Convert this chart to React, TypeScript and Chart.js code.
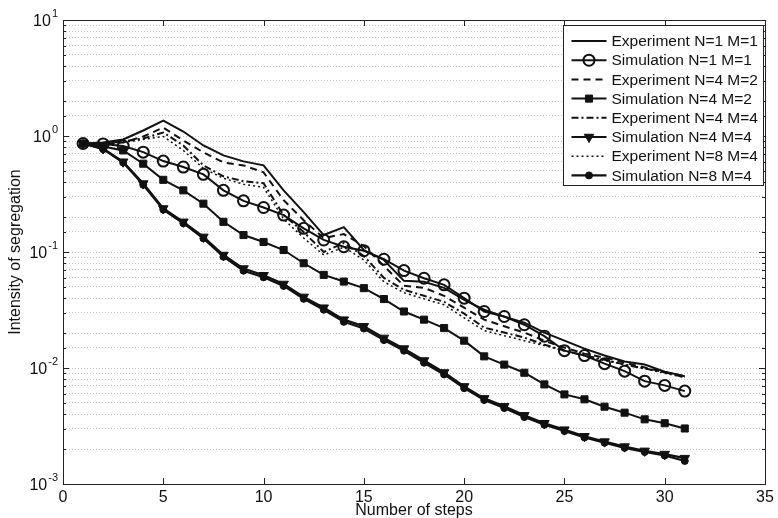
import React, { useEffect, useRef } from 'react';
import { Chart, registerables } from 'chart.js';
Chart.register(...registerables);

const steps = [1, 2, 3, 4, 5, 6, 7, 8, 9, 10, 11, 12, 13, 14, 15, 16, 17, 18, 19, 20, 21, 22, 23, 24, 25, 26, 27, 28, 29, 30, 31];

const expN1M1 = [0.862, 0.880, 0.933, 1.115, 1.359, 1.093, 0.829, 0.680, 0.604, 0.558, 0.340, 0.2205, 0.140, 0.164, 0.104, 0.0854, 0.0564, 0.0553, 0.0491, 0.0387, 0.0318, 0.0277, 0.0246, 0.0202, 0.0172, 0.0147, 0.0128, 0.0114, 0.0107, 0.0093, 0.0085];
const simN1M1 = [0.862, 0.855, 0.82, 0.726, 0.608, 0.540, 0.467, 0.340, 0.276, 0.242, 0.208, 0.160, 0.127, 0.111, 0.1026, 0.0866, 0.0691, 0.0594, 0.0521, 0.0400, 0.0307, 0.0278, 0.0236, 0.0188, 0.0141, 0.0128, 0.0109, 0.00939, 0.00770, 0.00708, 0.00632];
const expN4M2 = [0.862, 0.862, 0.880, 0.990, 1.183, 0.915, 0.722, 0.592, 0.558, 0.486, 0.2795, 0.188, 0.132, 0.1427, 0.1126, 0.0758, 0.0511, 0.0491, 0.0419, 0.0331, 0.0261, 0.0229, 0.0202, 0.0172, 0.0150, 0.0133, 0.0123, 0.0111, 0.0101, 0.0092, 0.0083];
const simN4M2 = [0.862, 0.813, 0.751, 0.577, 0.419, 0.340, 0.261, 0.182, 0.140, 0.122, 0.104, 0.080, 0.0635, 0.0556, 0.0488, 0.0393, 0.0307, 0.0261, 0.0221, 0.0172, 0.0126, 0.0107, 0.0091, 0.00722, 0.00592, 0.00537, 0.00464, 0.00412, 0.00361, 0.00334, 0.00301];
const expN4M4 = [0.862, 0.862, 0.897, 0.952, 1.072, 0.829, 0.558, 0.449, 0.407, 0.391, 0.208, 0.1485, 0.100, 0.1195, 0.0924, 0.0598, 0.0472, 0.0419, 0.0372, 0.0294, 0.0223, 0.0202, 0.0183, 0.0159, 0.0141, 0.0128, 0.0118, 0.0107, 0.0099, 0.0092, 0.0085];
const simN4M4 = [0.862, 0.78, 0.60, 0.389, 0.237, 0.182, 0.135, 0.0942, 0.072, 0.063, 0.053, 0.041, 0.0331, 0.0261, 0.0229, 0.01816, 0.0147, 0.0116, 0.00915, 0.00694, 0.00547, 0.00467, 0.00391, 0.00334, 0.00294, 0.00258, 0.00232, 0.0021, 0.00193, 0.00181, 0.00167];
const expN8M4 = [0.862, 0.862, 0.880, 0.933, 0.990, 0.751, 0.526, 0.432, 0.384, 0.361, 0.192, 0.132, 0.0942, 0.110, 0.0854, 0.0553, 0.0445, 0.0395, 0.0351, 0.0271, 0.0210, 0.0190, 0.0172, 0.0156, 0.0141, 0.0128, 0.0116, 0.0107, 0.0099, 0.0090, 0.0083];
const simN8M4 = [0.862, 0.77, 0.59, 0.38, 0.232, 0.177, 0.131, 0.091, 0.069, 0.0605, 0.051, 0.0395, 0.0318, 0.0250, 0.0219, 0.0174, 0.0141, 0.0111, 0.0088, 0.0067, 0.0053, 0.00452, 0.00378, 0.00324, 0.00286, 0.00252, 0.00227, 0.00205, 0.00189, 0.00176, 0.00158];

const seriesLabels = [
  'Experiment N=1 M=1',
  'Simulation N=1 M=1',
  'Experiment N=4 M=2',
  'Simulation N=4 M=2',
  'Experiment N=4 M=4',
  'Simulation N=4 M=4',
  'Experiment N=8 M=4',
  'Simulation N=8 M=4',
];
const xTickValues = [0, 5, 10, 15, 20, 25, 30, 35];
const yMajorExponents = [1, 0, -1, -2, -3];

const FONT = '"Liberation Sans", Arial, Helvetica, sans-serif';

function drawMarker(ctx: CanvasRenderingContext2D, ds: any, x: number, y: number) {
  const style = ds.pointStyle;
  const r = ds.pointRadius || 0;
  if (!style || r <= 0) return;
  ctx.save();
  ctx.lineWidth = ds.pointBorderWidth || 1;
  ctx.strokeStyle = ds.pointBorderColor || '#000';
  ctx.fillStyle = ds.pointBackgroundColor || '#000';
  ctx.setLineDash([]);
  ctx.beginPath();
  if (style === 'circle') {
    ctx.arc(x, y, r, 0, Math.PI * 2);
  } else if (style === 'rect') {
    const s = Math.SQRT1_2 * r;
    ctx.rect(x - s, y - s, 2 * s, 2 * s);
  } else if (style === 'triangle') {
    let rad = ((ds.pointRotation || 0) * Math.PI) / 180;
    ctx.moveTo(x + Math.sin(rad) * r, y - Math.cos(rad) * r);
    rad += (2 * Math.PI) / 3;
    ctx.lineTo(x + Math.sin(rad) * r, y - Math.cos(rad) * r);
    rad += (2 * Math.PI) / 3;
    ctx.lineTo(x + Math.sin(rad) * r, y - Math.cos(rad) * r);
    ctx.closePath();
  }
  ctx.fill();
  ctx.stroke();
  ctx.restore();
}

const decorPlugin = {
  id: 'decor',
  afterDraw(chart: any) {
    const ctx: CanvasRenderingContext2D = chart.ctx;
    const { left, right, top, bottom } = chart.chartArea;
    const ys = chart.scales.y;
    const xs = chart.scales.x;
    ctx.save();
    ctx.strokeStyle = '#222';
    ctx.lineWidth = 1;
    ctx.setLineDash([]);
    ctx.strokeRect(Math.round(left) + 0.5, Math.round(top) + 0.5, Math.round(right - left), Math.round(bottom - top));
    ctx.beginPath();
    ys.ticks.forEach((t: any) => {
      const py = Math.round(ys.getPixelForValue(t.value)) + 0.5;
      const lg = Math.log10(t.value);
      const major = Math.abs(lg - Math.round(lg)) < 1e-6;
      const len = major ? 6 : 3;
      ctx.moveTo(left, py);
      ctx.lineTo(left + len, py);
      ctx.moveTo(right, py);
      ctx.lineTo(right - len, py);
    });
    xTickValues.forEach((v) => {
      const px = Math.round(xs.getPixelForValue(v)) + 0.5;
      ctx.moveTo(px, bottom);
      ctx.lineTo(px, bottom - 6);
      ctx.moveTo(px, top);
      ctx.lineTo(px, top + 6);
    });
    ctx.stroke();
    ctx.fillStyle = '#111';
    yMajorExponents.forEach((k) => {
      const py = ys.getPixelForValue(Math.pow(10, k));
      const xEnd = left - 5;
      ctx.font = `11px ${FONT}`;
      const expStr = String(k);
      const ew = ctx.measureText(expStr).width;
      ctx.textAlign = 'left';
      ctx.textBaseline = 'alphabetic';
      ctx.fillText(expStr, xEnd - ew, py - 3);
      ctx.font = `16px ${FONT}`;
      ctx.textAlign = 'right';
      ctx.fillText('10', xEnd - ew - 1, py + 6);
    });
    const lw = 200;
    const lh = 160;
    const lx = Math.round(right - 2 - lw) + 0.5;
    const ly = Math.round(top + 5) + 0.5;
    ctx.fillStyle = '#fff';
    ctx.fillRect(lx, ly, lw, lh);
    ctx.strokeStyle = '#222';
    ctx.lineWidth = 1;
    ctx.strokeRect(lx, ly, lw, lh);
    chart.data.datasets.forEach((ds: any, i: number) => {
      const cy = ly + 15.5 + i * 19.2;
      ctx.save();
      ctx.strokeStyle = ds.borderColor;
      ctx.lineWidth = ds.borderWidth;
      ctx.setLineDash(ds.borderDash || []);
      ctx.beginPath();
      ctx.moveTo(lx + 8, cy);
      ctx.lineTo(lx + 43, cy);
      ctx.stroke();
      ctx.restore();
      drawMarker(ctx, ds, lx + 25.5, cy);
      ctx.fillStyle = '#111';
      ctx.font = `15.5px ${FONT}`;
      ctx.textAlign = 'left';
      ctx.textBaseline = 'middle';
      ctx.fillText(ds.label, lx + 48, cy + 1);
    });
    ctx.restore();
  },
};

export default function App() {
  const ref = useRef<HTMLCanvasElement>(null);
  useEffect(() => {
    document.body.style.margin = '0';
    const canvas = ref.current;
    if (!canvas) return;
    const toPts = (arr: number[]) => steps.map((s, i) => ({ x: s, y: arr[i] }));
    const base = { borderColor: '#111', pointBorderColor: '#111', fill: false, tension: 0 };
    const datasets: any[] = [
      { ...base, label: seriesLabels[0], data: toPts(expN1M1), borderWidth: 2, borderDash: [], pointRadius: 0, pointStyle: false },
      { ...base, label: seriesLabels[1], data: toPts(simN1M1), borderWidth: 2, borderDash: [], pointStyle: 'circle', pointRadius: 5.5, pointBorderWidth: 2, pointBackgroundColor: 'rgba(0,0,0,0)' },
      { ...base, label: seriesLabels[2], data: toPts(expN4M2), borderWidth: 2, borderDash: [7, 5], pointRadius: 0, pointStyle: false },
      { ...base, label: seriesLabels[3], data: toPts(simN4M2), borderWidth: 2, borderDash: [], pointStyle: 'rect', pointRadius: 5, pointBorderWidth: 1, pointBackgroundColor: '#111' },
      { ...base, label: seriesLabels[4], data: toPts(expN4M4), borderWidth: 2, borderDash: [7, 3, 2, 3], pointRadius: 0, pointStyle: false },
      { ...base, label: seriesLabels[5], data: toPts(simN4M4), borderWidth: 2.2, borderDash: [], pointStyle: 'triangle', pointRotation: 180, pointRadius: 5.5, pointBorderWidth: 1, pointBackgroundColor: '#111' },
      { ...base, label: seriesLabels[6], data: toPts(expN8M4), borderWidth: 1.5, borderDash: [2, 3], pointRadius: 0, pointStyle: false },
      { ...base, label: seriesLabels[7], data: toPts(simN8M4), borderWidth: 2.2, borderDash: [], pointStyle: 'circle', pointRadius: 3.5, pointBorderWidth: 1, pointBackgroundColor: '#111' },
    ];
    const chart = new Chart(canvas, {
      type: 'line',
      data: { datasets },
      options: {
        responsive: false,
        animation: false,
        devicePixelRatio: 1,
        layout: { padding: { left: 0, top: 20, right: 13, bottom: 0 } },
        plugins: { legend: { display: false }, tooltip: { enabled: false } },
        elements: { line: { borderCapStyle: 'butt', borderJoinStyle: 'miter' } },
        scales: {
          x: {
            type: 'linear',
            min: 0,
            max: 35,
            afterBuildTicks: (scale: any) => {
              scale.ticks = xTickValues.map((v) => ({ value: v }));
            },
            afterFit: (scale: any) => {
              scale.height = 34;
            },
            grid: { display: false, drawTicks: false },
            border: { display: false },
            ticks: { color: '#111', font: { family: FONT, size: 16 }, padding: 4, maxRotation: 0, autoSkip: false },
            title: { display: true, text: 'Number of steps', color: '#111', font: { family: FONT, size: 16 }, padding: { top: 0, bottom: -2 } },
          },
          y: {
            type: 'logarithmic',
            min: 0.001,
            max: 10,
            afterFit: (scale: any) => {
              scale.width = 63;
            },
            grid: { display: true, color: '#c4c4c4', lineWidth: 1, drawTicks: false },
            border: { display: false, dash: [1, 2] },
            ticks: { display: false },
            title: { display: true, text: 'Intensity of segregation', color: '#111', font: { family: FONT, size: 16 }, padding: { top: 6, bottom: 0 } },
          },
        },
      },
      plugins: [decorPlugin],
    });
    return () => chart.destroy();
  }, []);
  return (
    <div style={{ width: 778, height: 518, background: '#fff' }}>
      <canvas ref={ref} width={778} height={518} style={{ display: 'block' }} />
    </div>
  );
}
